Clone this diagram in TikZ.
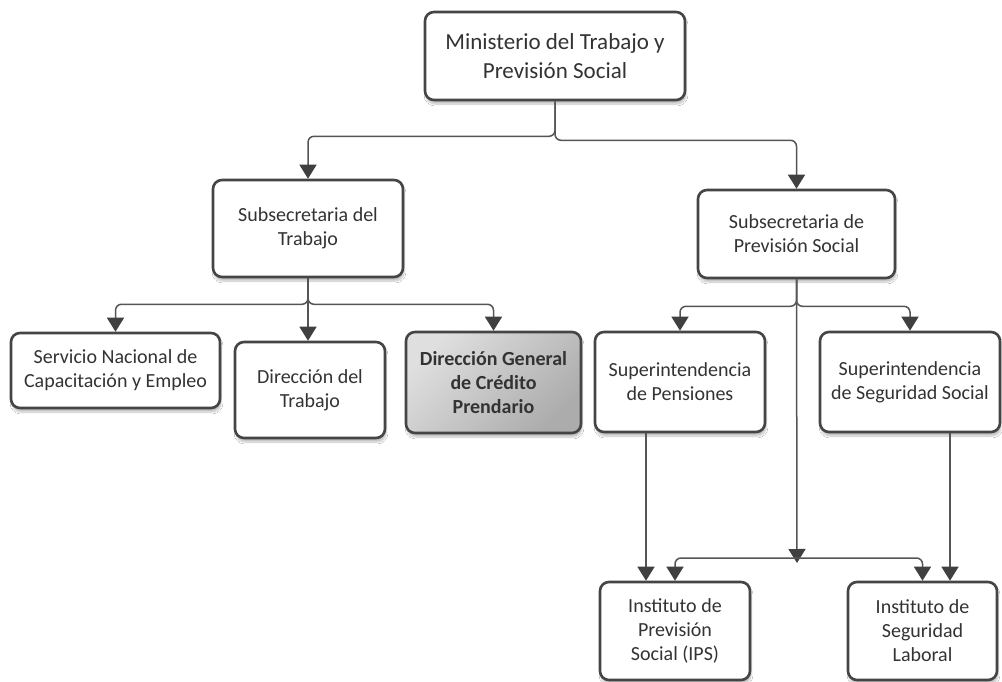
\documentclass[tikz,border=0pt]{standalone}
\usepackage{fontspec}
\setmainfont{Carlito}
\usepackage{tikz}
\usetikzlibrary{arrows.meta,shadows.blur}
\definecolor{boxline}{HTML}{454545}
\definecolor{wire}{HTML}{555555}
\definecolor{tipc}{HTML}{404040}
\definecolor{txt}{HTML}{333333}

\begin{document}
\begin{tikzpicture}[x=1pt,y=-1pt,
    box/.style={draw=boxline,line width=2.6pt,rounded corners=9pt,fill=white,
        align=center,text=txt,inner sep=0pt,font=\fontsize{20}{24}\selectfont,
        blur shadow={shadow xshift=1pt,shadow yshift=-4pt,shadow opacity=25,shadow blur steps=6}},
    conn/.style={draw=wire,line width=1.5pt,rounded corners=6pt},
    arr/.style={conn,-{Triangle[width=17pt,length=14pt,fill=tipc,color=tipc]}}]
\useasboundingbox[fill=white] (0,0) rectangle (1002,682);
% top level
\node[box,minimum width=260pt,minimum height=88pt,font=\fontsize{23}{29}\selectfont] (Min) at (555,56)
    {Ministerio del Trabajo y\\Previsión Social};
\node[box,minimum width=190pt,minimum height=97pt] (SubT) at (308,228.5) {Subsecretaria del\\Trabajo};
\node[box,minimum width=197pt,minimum height=88pt] (SubP) at (796.5,234) {Subsecretaria de\\Previsión Social};
% under SubT
\node[box,minimum width=209pt,minimum height=75pt] (Serv) at (115.5,370.5) {Servicio Nacional de\\Capacitación y Empleo};
\node[box,minimum width=150pt,minimum height=96pt] (DT) at (310,390) {Dirección del\\Trabajo};
\node[box,minimum width=175pt,minimum height=101pt,top color=gray!25,bottom color=gray!65,shading angle=45,
    font=\bfseries\fontsize{20}{24}\selectfont] (DG) at (493.5,382.5) {Dirección General\\de Crédito\\Prendario};
% under SubP
\node[box,minimum width=170pt,minimum height=100pt] (SupPen) at (680,382) {Superintendencia\\de Pensiones};
\node[box,minimum width=180pt,minimum height=100pt] (SupSeg) at (910,382) {Superintendencia\\de Seguridad Social};
\node[box,minimum width=150pt,minimum height=98pt] (IPS) at (675,631) {Instituto de\\Previsión\\Social (IPS)};
\node[box,minimum width=149pt,minimum height=98pt] (ISL) at (922.5,631) {Instituto de\\Seguridad\\Laboral};

\draw[arr] (Min.south) -- ++(0,35) -| (SubT.north);
\draw[arr] (Min.south) -- ++(0,39) -| (SubP.north);

\foreach \n in {Serv,DG}{\draw[arr] (SubT.south) -- ++(0,26) -| (\n.north);}
\draw[arr] (SubT.south) -- (SubT.south |- DT.north);

\foreach \n in {SupPen,SupSeg}{\draw[arr] (SubP.south) -- ++(0,27) -| (\n.north);}
\coordinate (bar) at (797,558);
\draw[arr] (SubP.south) -- ([yshift=-5pt]bar);
\foreach \n in {IPS,ISL}{\draw[arr] (bar) -| (\n.north);}

\draw[arr] ([xshift=-34pt]SupPen.south) -- ([xshift=-34pt]SupPen.south |- IPS.north);
\draw[arr] ([xshift=40pt]SupSeg.south) -- ([xshift=40pt]SupSeg.south |- ISL.north);
\end{tikzpicture}
\end{document}
